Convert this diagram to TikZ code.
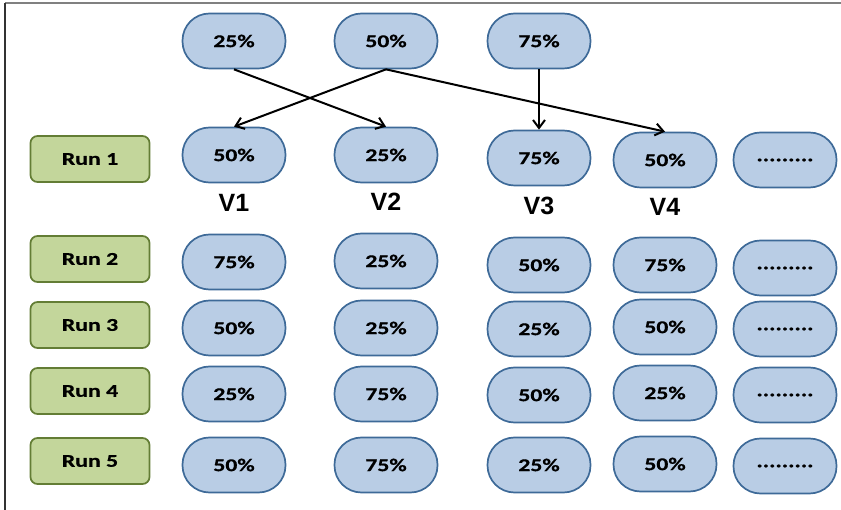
\documentclass[tikz,border=0pt]{standalone}
\usepackage{fontspec}
\setmainfont{Carlito}
\newfontfamily\boxfont[FakeStretch=1.32, FakeBold=0.6]{Carlito}
\newfontfamily\vfont{Liberation Sans}
\usepackage{tikz}
\usetikzlibrary{arrows.meta}
\definecolor{ovalfill}{HTML}{B9CDE5}
\definecolor{ovalline}{HTML}{3E6A98}
\definecolor{runfill}{HTML}{C3D69B}
\definecolor{runline}{HTML}{637D35}

\tikzset{
  pct/.style={draw=ovalline, fill=ovalfill, line width=1.7pt, rounded corners=27pt,
    minimum width=103pt, minimum height=55pt, font=\fontsize{18}{18}\boxfont\bfseries},
  runbox/.style={draw=runline, fill=runfill, line width=1.7pt, rounded corners=7pt,
    minimum width=119pt, minimum height=46pt, font=\fontsize{18}{18}\boxfont\bfseries},
  vlabel/.style={font=\fontsize{25}{25}\vfont\bfseries},
  link/.style={line width=2pt, -{Straight Barb[length=8pt, width=12pt]}}
}

\begin{document}
\begin{tikzpicture}[x=1pt, y=-1pt]
                \useasboundingbox (0,0) rectangle (841,510);
                \draw[gray, line width=2pt] (5,3) -- (841,3);
                \draw[black!80, line width=1.2pt] (5,3) -- (5,510);
                % starting values
                \node[pct] (p25) at (234,41) {25\%};
                \node[pct] (p50) at (386,41) {50\%};
                \node[pct] (p75) at (539,41) {75\%};
                % run 1
                \node[runbox] (run1) at (90,159) {Run 1};
                \node[pct] (a1) at (234,155) {50\%};
                \node[pct] (a2) at (386,155) {25\%};
                \node[pct] (a3) at (539,158) {75\%};
                \node[pct] (a4) at (665,160) {50\%};
                \node[pct] (a5) at (785,160) {.........};
                \node[vlabel] (v1) at (234,203) {V1};
                \node[vlabel] (v2) at (386,202) {V2};
                \node[vlabel] (v3) at (539,206) {V3};
                \node[vlabel] (v4) at (665,207) {V4};
                % run 2
                \node[runbox] (run2) at (90,259) {Run 2};
                \node[pct] (b1) at (234,262) {75\%};
                \node[pct] (b2) at (386,261) {25\%};
                \node[pct] (b3) at (539,265) {50\%};
                \node[pct] (b4) at (665,265) {75\%};
                \node[pct] (b5) at (785,268) {.........};
                % run 3
                \node[runbox] (run3) at (90,325) {Run 3};
                \node[pct] (c1) at (234,328) {50\%};
                \node[pct] (c2) at (386,328) {25\%};
                \node[pct] (c3) at (539,329) {25\%};
                \node[pct] (c4) at (665,327) {50\%};
                \node[pct] (c5) at (785,329) {.........};
                % run 4
                \node[runbox] (run4) at (90,391) {Run 4};
                \node[pct] (d1) at (234,394) {25\%};
                \node[pct] (d2) at (386,394) {75\%};
                \node[pct] (d3) at (539,395) {50\%};
                \node[pct] (d4) at (665,393) {25\%};
                \node[pct] (d5) at (785,395) {.........};
                % run 5
                \node[runbox] (run5) at (90,461) {Run 5};
                \node[pct] (e1) at (234,465) {50\%};
                \node[pct] (e2) at (386,465) {75\%};
                \node[pct] (e3) at (539,465) {25\%};
                \node[pct] (e4) at (665,464) {50\%};
                \node[pct] (e5) at (785,466) {.........};
                % crossover arrows
                \draw[link] (p25.south) -- (a2.north);
                \draw[link] (p50.south) -- (a1.north);
                \draw[link] (p50.south) -- (a4.north);
                \draw[link] (p75.south) -- (a3.north);
            \end{tikzpicture}
\end{document}
